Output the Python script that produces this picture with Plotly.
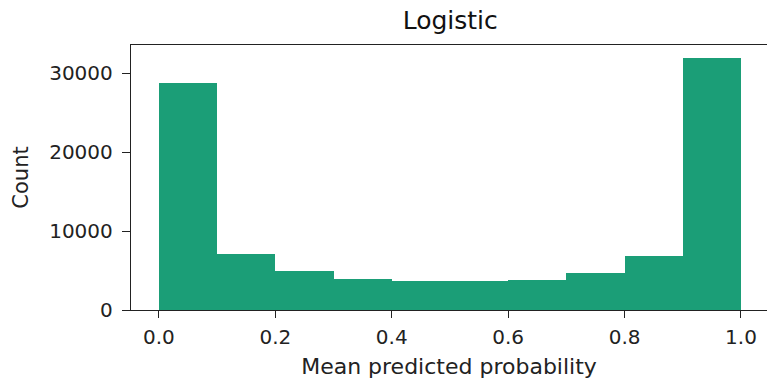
import plotly.graph_objects as go

bin_edges = [0.0, 0.1, 0.2, 0.3, 0.4, 0.5, 0.6, 0.7, 0.8, 0.9, 1.0]
counts = [28800, 7100, 4900, 3880, 3670, 3640, 3840, 4680, 6900, 32000]
x_ticks = [0.0, 0.2, 0.4, 0.6, 0.8, 1.0]
y_ticks = [0, 10000, 20000, 30000]

centers = [(bin_edges[i] + bin_edges[i + 1]) / 2 for i in range(len(counts))]
widths = [bin_edges[i + 1] - bin_edges[i] for i in range(len(counts))]

font = "DejaVu Sans"
fig = go.Figure(go.Bar(
    x=centers, y=counts, width=widths,
    marker=dict(color="#1b9e77", line=dict(width=0)),
))

fig.update_layout(
    width=767, height=380,
    margin=dict(l=131, r=0, t=45, b=70),
    plot_bgcolor="white", paper_bgcolor="white",
    bargap=0, showlegend=False,
    font=dict(family=font, size=20, color="#222"),
    title=dict(text="Logistic", x=0.587, xanchor="center", y=0.947, yanchor="middle",
               font=dict(family=font, size=25, color="#111")),
)
fig.update_xaxes(
    range=[-0.048, 1.0447], tickvals=x_ticks, ticktext=[f"{v:.1f}" for v in x_ticks],
    ticks="outside", ticklen=7, tickwidth=1.3, tickcolor="#222", ticklabelstandoff=2,
    showline=True, linecolor="#222", linewidth=1.4, mirror=True,
    showgrid=False, zeroline=False,
    title=dict(text="Mean predicted probability", standoff=10, font=dict(family=font, size=22)),
)
fig.update_yaxes(
    range=[0, 33600], tickvals=y_ticks, ticktext=[str(v) for v in y_ticks],
    ticks="outside", ticklen=8, tickwidth=1.3, tickcolor="#222", ticklabelstandoff=5,
    showline=True, linecolor="#222", linewidth=1.4,
    showgrid=False, zeroline=False,
    title=dict(text="Count", standoff=14, font=dict(family=font, size=21)),
)

fig.write_html("out.html")
